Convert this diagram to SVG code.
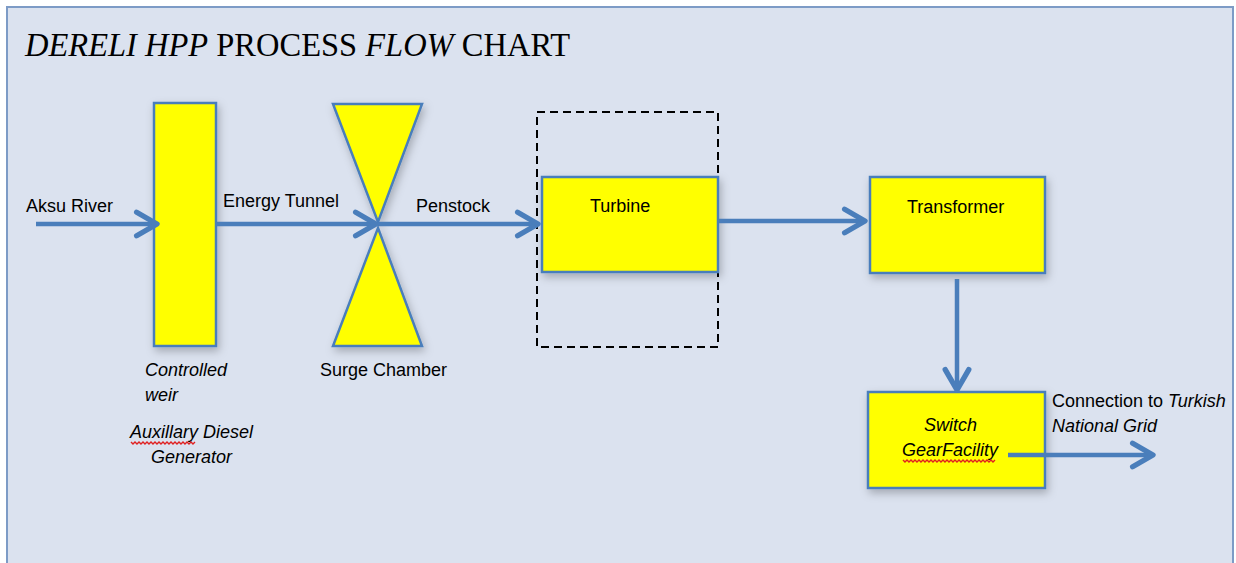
<svg xmlns="http://www.w3.org/2000/svg" width="1236" height="563" viewBox="0 0 1236 563">
<style>
.lbl{font-family:"Liberation Sans",Arial,sans-serif;font-size:18px;fill:#000}
.it{font-style:italic}
.title{font-family:"Liberation Serif","Times New Roman",serif;font-size:33px;fill:#000}
.box{fill:#ffff00;stroke:#4a7ebb;stroke-width:2.5}
.conn{stroke:#4a7ebb;stroke-width:4.5;fill:none;marker-end:url(#ah)}
.sq{fill:none;stroke:#e02020;stroke-width:1.4}
</style>
<defs>
<marker id="ah" markerUnits="userSpaceOnUse" markerWidth="30" markerHeight="30" viewBox="-24 -14 28 28" refX="0" refY="0" orient="auto" overflow="visible">
<path d="M-19,-11 L0,0 L-19,11" fill="none" stroke="#4a7ebb" stroke-width="5" stroke-linecap="round" stroke-linejoin="round"/>
</marker>
<filter id="sh" x="-20%" y="-20%" width="150%" height="150%">
<feDropShadow dx="2" dy="4" stdDeviation="4" flood-color="#000" flood-opacity="0.25"/>
</filter>
</defs>
<rect x="0" y="0" width="1236" height="563" fill="#ffffff"/>
<rect x="7" y="7" width="1226" height="560" fill="#dbe2ef" stroke="#7d9bc6" stroke-width="2"/>
<g id="title">
<text class="title" x="25" y="56" textLength="545" lengthAdjust="spacingAndGlyphs"><tspan font-style="italic">DERELI HPP</tspan> PROCESS <tspan font-style="italic">FLOW</tspan> CHART</text>
</g>
<g id="weir">
<rect class="box" x="154" y="103" width="62" height="243" filter="url(#sh)"/>
<text class="lbl it" x="145" y="376">Controlled</text>
<text class="lbl it" x="145" y="401">weir</text>
<text class="lbl it" x="130" y="438">Auxillary Diesel</text>
<path class="sq" d="M131,442 l2,2 l2,-2 l2,2 l2,-2 l2,2 l2,-2 l2,2 l2,-2 l2,2 l2,-2 l2,2 l2,-2 l2,2 l2,-2 l2,2 l2,-2 l2,2 l2,-2 l2,2 l2,-2 l2,2 l2,-2 l2,2 l2,-2 l2,2 l2,-2 l2,2 l2,-2 l2,2 l2,-2 l2,2 l2,-2"/>
<text class="lbl it" x="151" y="463">Generator</text>
</g>
<g id="surge">
<polygon class="box" points="333,104 422,104 378,222" filter="url(#sh)"/>
<polygon class="box" points="378,228 422,346 333,346" filter="url(#sh)"/>
<text class="lbl" x="320" y="376">Surge Chamber</text>
</g>
<g id="turbine">
<rect x="537" y="112" width="181" height="235" fill="none" stroke="#000" stroke-width="2" stroke-dasharray="8,5"/>
<rect class="box" x="542" y="177" width="176" height="95" filter="url(#sh)"/>
<text class="lbl" x="590" y="212">Turbine</text>
</g>
<g id="transformer">
<rect class="box" x="870" y="177" width="175" height="96" filter="url(#sh)"/>
<text class="lbl" x="907" y="213">Transformer</text>
</g>
<g id="switchgear">
<rect class="box" x="868" y="392" width="177" height="96" filter="url(#sh)"/>
<text class="lbl it" x="924" y="431">Switch</text>
<text class="lbl it" x="902" y="456">GearFacility</text>
<path class="sq" d="M903,460 l2,2 l2,-2 l2,2 l2,-2 l2,2 l2,-2 l2,2 l2,-2 l2,2 l2,-2 l2,2 l2,-2 l2,2 l2,-2 l2,2 l2,-2 l2,2 l2,-2 l2,2 l2,-2 l2,2 l2,-2 l2,2 l2,-2 l2,2 l2,-2 l2,2 l2,-2 l2,2 l2,-2 l2,2 l2,-2 l2,2 l2,-2 l2,2 l2,-2 l2,2 l2,-2 l2,2 l2,-2 l2,2 l2,-2 l2,2 l2,-2 l2,2 l2,-2"/>
</g>
<g id="labels">
<text class="lbl" x="26" y="212">Aksu River</text>
<text class="lbl" x="223" y="207">Energy Tunnel</text>
<text class="lbl" x="416" y="212">Penstock</text>
<text class="lbl" x="1052" y="407">Connection to <tspan font-style="italic">Turkish</tspan></text>
<text class="lbl it" x="1052" y="432">National Grid</text>
</g>
<g id="connectors">
<line class="conn" x1="36" y1="224" x2="157" y2="224"/>
<line class="conn" x1="216" y1="224" x2="376" y2="224"/>
<line class="conn" x1="378" y1="224" x2="538" y2="224"/>
<line class="conn" x1="719" y1="221" x2="865" y2="221"/>
<line class="conn" x1="957" y1="279" x2="957" y2="390"/>
<line class="conn" x1="1008" y1="455" x2="1153" y2="455"/>
</g>
</svg>
